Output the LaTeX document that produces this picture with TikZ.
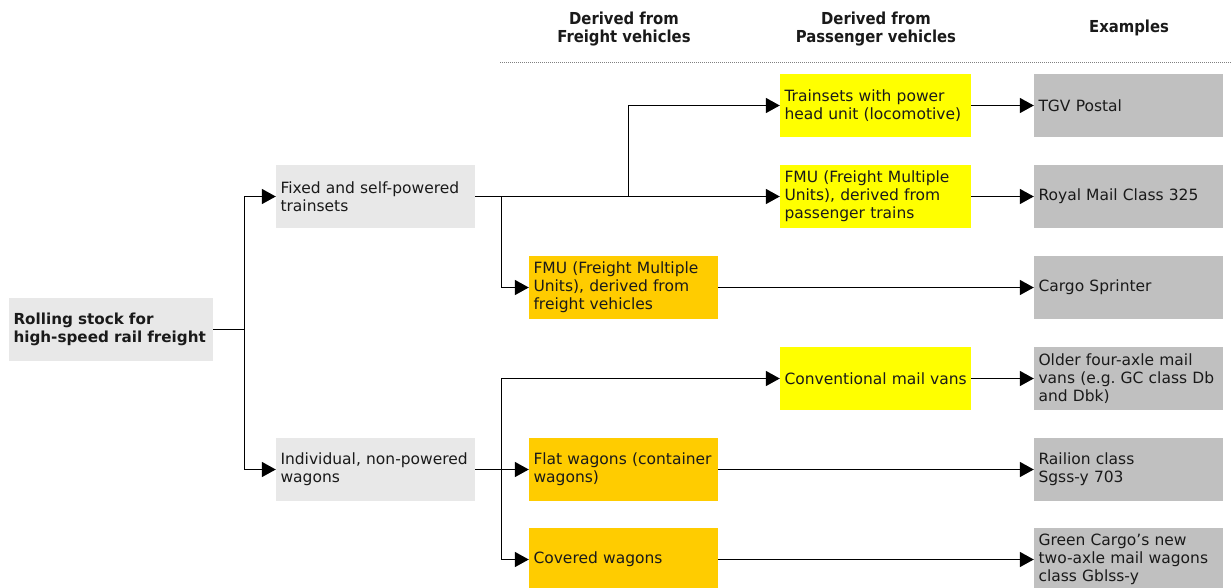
\documentclass[tikz,border=0pt]{standalone}
\usepackage{fontspec}
\setmainfont{DejaVu Sans}
\newfontfamily\hdfont{DejaVu Sans Condensed}
\usetikzlibrary{arrows.meta}
\definecolor{lgrey}{HTML}{E8E8E8}
\definecolor{ygold}{HTML}{FFFF00}
\definecolor{ogold}{HTML}{FFCC00}
\definecolor{egrey}{HTML}{C0C0C0}
\definecolor{txt}{HTML}{1A1A1A}
\tikzset{
  bx/.style={draw=none, inner xsep=4.5pt, inner ysep=0pt, align=left, text=txt,
    font=\fontsize{15.5}{18}\selectfont},
  rootbox/.style={bx, fill=lgrey, minimum width=204pt, minimum height=63pt, text width=195pt,
    font=\bfseries\fontsize{15.2}{18}\selectfont},
  catbox/.style={bx, fill=lgrey, minimum width=199pt, minimum height=63pt, text width=190pt},
  ybox/.style={bx, fill=ygold, minimum width=191pt, minimum height=63pt, text width=182pt},
  obox/.style={bx, fill=ogold, minimum width=189pt, minimum height=63pt, text width=180pt},
  ebox/.style={bx, fill=egrey, minimum width=189pt, minimum height=63pt, text width=180pt},
  hd/.style={align=center, font=\hdfont\bfseries\fontsize{16.5}{18}\selectfont, text=txt},
  ln/.style={line width=1.5pt, black},
  arr/.style={ln, -{Triangle[length=14pt,width=15pt]}},
}
\begin{document}
\begin{tikzpicture}[x=1pt,y=-1pt]
\useasboundingbox (0,0) rectangle (1231,587);
% headers
\node[hd] (h1) at (624,29) {Derived from\\Freight vehicles};
\node[hd] (h2) at (876,29) {Derived from\\Passenger vehicles};
\node[hd] (h3) at (1129,28) {Examples};
\draw[gray, line width=1pt, dash pattern=on 1pt off 1pt] (500,62.5) -- (1231,62.5);
% boxes
\node[rootbox] (root) at (111,329.5) {Rolling stock for\\high-speed rail freight};
\node[catbox] (fixed) at (375.5,196.5) {Fixed and self-powered\\trainsets};
\node[catbox] (indiv) at (375.5,469.5) {Individual, non-powered\\wagons};
\node[ybox] (y1) at (875.5,105.5) {Trainsets with power\\head unit (locomotive)};
\node[ybox] (y2) at (875.5,196.5) {FMU (Freight Multiple\\Units), derived from\\passenger trains};
\node[ybox] (y3) at (875.5,378.5) {\mbox{Conventional mail vans}};
\node[obox] (o1) at (623.5,287.5) {FMU (Freight Multiple\\Units), derived from\\freight vehicles};
\node[obox] (o2) at (623.5,469.5) {Flat wagons (container\\wagons)};
\node[obox] (o3) at (623.5,559.5) {Covered wagons};
\node[ebox] (e1) at (1128.5,105.5) {TGV Postal};
\node[ebox] (e2) at (1128.5,196.5) {Royal Mail Class 325};
\node[ebox] (e3) at (1128.5,287.5) {Cargo Sprinter};
\node[ebox] (e4) at (1128.5,378.5) {Older four-axle mail\\vans (e.g.\ GC class Db\\and Dbk)};
\node[ebox] (e5) at (1128.5,469.5) {Railion class\\Sgss-y 703};
\node[ebox] (e6) at (1128.5,559.5) {Green Cargo’s new\\two-axle mail wagons\\class Gblss-y};
% junctions
\coordinate (s1) at (244.5,329.5);
\coordinate (s2) at (501.5,196.5);
\coordinate (s3) at (628.5,196.5);
\coordinate (s4) at (501.5,469.5);
% connectors
\draw[ln] (root.east) -- (s1);
\draw[arr] (s1) |- (fixed.west);
\draw[arr] (s1) |- (indiv.west);
\draw[arr] (fixed.east) -- (y2.west);
\draw[arr] (s3) |- (y1.west);
\draw[arr] (s2) |- (o1.west);
\draw[arr] (indiv.east) -- (o2.west);
\draw[arr] (s4) |- (y3.west);
\draw[arr] (s4) |- (o3.west);
\draw[arr] (y1.east) -- (e1.west);
\draw[arr] (y2.east) -- (e2.west);
\draw[arr] (o1.east) -- (e3.west);
\draw[arr] (y3.east) -- (e4.west);
\draw[arr] (o2.east) -- (e5.west);
\draw[arr] (o3.east) -- (e6.west);
\end{tikzpicture}
\end{document}
